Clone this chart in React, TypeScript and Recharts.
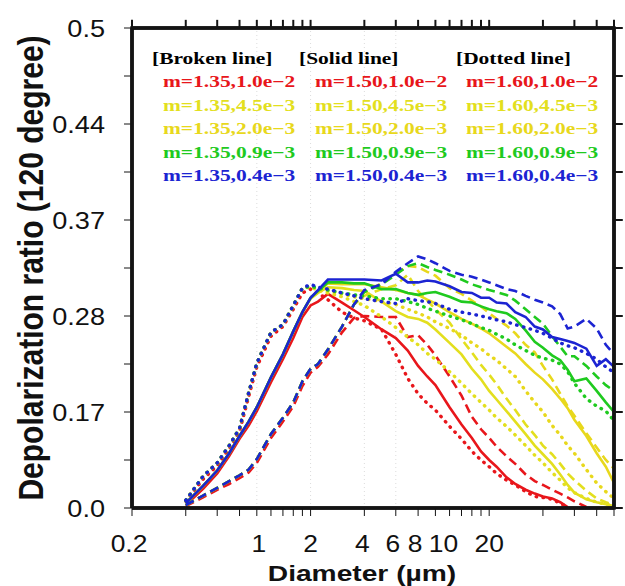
import { Line, LineChart, ReferenceLine, XAxis, YAxis } from 'recharts'

// diameters (µm) sampled along the log x axis
const DIAMETERS = [
  0.4, 0.5, 0.6, 0.7, 0.8, 0.9, 1, 1.2, 1.4, 1.6, 1.8, 2, 2.2, 2.5, 3, 3.5, 4, 5, 6, 7, 8, 9,
  10, 12, 14, 16, 18, 20, 22, 25, 28, 32, 36, 40, 45, 50, 55, 60, 70, 80, 90, 100,
]

// the rising part is shared (and hidden under the blue curves) for each line style
const SOLID_RISE = [0.005, 0.023, 0.039, 0.057, 0.075, 0.09, 0.105, 0.136, 0.16, 0.184, 0.204]
const DOTTED_RISE = [0.008, 0.033, 0.047, 0.065, 0.083, 0.12, 0.151, 0.183, 0.191, 0.211, 0.229]
const DASHED_RISE = [
  0.003, 0.013, 0.021, 0.028, 0.034, 0.04, 0.051, 0.077, 0.094, 0.11, 0.132, 0.145, 0.15, 0.165,
  0.189, 0.212,
]

// m=1.35 broken, m=1.50 solid, m=1.60 dotted
const RED_DASHED = [
  0.002, 0.011, 0.019, 0.025, 0.031, 0.037, 0.047, 0.073, 0.09, 0.106, 0.127, 0.141, 0.147, 0.16,
  0.183, 0.198, 0.2, 0.199, 0.199, 0.178, 0.18, 0.17, 0.159, 0.137, 0.117, 0.095, 0.082, 0.073,
  0.064, 0.054, 0.046, 0.035, 0.028, 0.024, 0.019, 0.015, 0.011, 0.007, 0.001, null, null, null,
]
const RED_SOLID = [
  0.003, 0.02, 0.036, 0.054, 0.072, 0.086, 0.101, 0.131, 0.155, 0.177, 0.199, 0.211, 0.215, 0.223,
  0.214, 0.206, 0.199, 0.186, 0.177, 0.164, 0.148, 0.137, 0.128, 0.105, 0.087, 0.073, 0.059, 0.05,
  0.043, 0.032, 0.025, 0.019, 0.015, 0.012, 0.01, 0.006, 0.001, null, null, null, null, null,
]
const RED_DOTTED = [
  0.007, 0.03, 0.044, 0.062, 0.08, 0.116, 0.147, 0.179, 0.189, 0.207, 0.224, 0.228, 0.224, 0.217,
  0.204, 0.198, 0.195, 0.186, 0.16, 0.135, 0.119, 0.109, 0.102, 0.085, 0.072, 0.059, 0.05, 0.043,
  0.036, 0.029, 0.024, 0.017, 0.012, 0.011, 0.009, 0.005, 0.001, null, null, null, null, null,
]

const Y45_DASHED = [
  ...DASHED_RISE, 0.221, 0.228, 0.232, 0.243, 0.226, 0.216, 0.207, 0.193, 0.176, 0.162, 0.149,
  0.139, 0.129, 0.114, 0.102, 0.087, 0.076, 0.065, 0.056, 0.046, 0.036, 0.029, 0.018, 0.01, 0.006,
  0.003,
]
const Y45_SOLID = [
  ...SOLID_RISE, 0.218, 0.224, 0.23, 0.229, 0.227, 0.226, 0.215, 0.205, 0.199, 0.197, 0.193, 0.186,
  0.172, 0.16, 0.145, 0.134, 0.122, 0.113, 0.101, 0.09, 0.077, 0.065, 0.056, 0.046, 0.035, 0.024,
  0.016, 0.009, 0.006, 0.004, 0.002,
]
const Y45_DOTTED = [
  ...DOTTED_RISE, 0.23, 0.227, 0.224, 0.22, 0.215, 0.211, 0.199, 0.188, 0.178, 0.17, 0.161, 0.155,
  0.142, 0.13, 0.119, 0.11, 0.102, 0.094, 0.085, 0.076, 0.065, 0.055, 0.047, 0.037, 0.029, 0.021,
  0.016, 0.01, 0.006, 0.004, 0.002,
]

const Y20_DASHED = [
  ...DASHED_RISE, 0.225, 0.234, 0.244, 0.252, 0.251, 0.246, 0.242, 0.229, 0.223, 0.216, 0.21,
  0.203, 0.197, 0.19, 0.182, 0.17, 0.162, 0.148, 0.134, 0.119, 0.106, 0.096, 0.078, 0.063, 0.05,
  0.041,
]
const Y20_SOLID = [
  ...SOLID_RISE, 0.219, 0.225, 0.234, 0.233, 0.233, 0.233, 0.23, 0.227, 0.224, 0.222, 0.217, 0.213,
  0.204, 0.197, 0.192, 0.187, 0.182, 0.176, 0.168, 0.161, 0.15, 0.141, 0.134, 0.124, 0.114, 0.104,
  0.092, 0.075, 0.057, 0.043, 0.026,
]
const Y20_DOTTED = [
  ...DOTTED_RISE, 0.231, 0.228, 0.226, 0.223, 0.22, 0.218, 0.215, 0.212, 0.207, 0.203, 0.199,
  0.194, 0.187, 0.18, 0.172, 0.166, 0.159, 0.154, 0.145, 0.137, 0.122, 0.11, 0.1, 0.086, 0.076,
  0.065, 0.057, 0.04, 0.026, 0.017, 0.01,
]

const GREEN_DASHED = [
  ...DASHED_RISE, 0.225, 0.233, 0.243, 0.252, 0.255, 0.251, 0.248, 0.243, 0.238, 0.233, 0.23,
  0.227, 0.225, 0.222, 0.216, 0.207, 0.199, 0.192, 0.179, 0.168, 0.158, 0.158, 0.148, 0.137, 0.128,
  0.122,
]
const GREEN_SOLID = [
  ...SOLID_RISE, 0.219, 0.226, 0.235, 0.235, 0.234, 0.234, 0.228, 0.228, 0.224, 0.222, 0.224,
  0.225, 0.22, 0.215, 0.214, 0.21, 0.207, 0.205, 0.203, 0.197, 0.185, 0.173, 0.167, 0.159, 0.154,
  0.144, 0.132, 0.135, 0.122, 0.11, 0.1,
]
const GREEN_DOTTED = [
  ...DOTTED_RISE, 0.231, 0.229, 0.227, 0.224, 0.222, 0.221, 0.218, 0.218, 0.215, 0.212, 0.208,
  0.205, 0.2, 0.196, 0.192, 0.188, 0.185, 0.181, 0.176, 0.17, 0.164, 0.159, 0.156, 0.154, 0.15,
  0.142, 0.13, 0.114, 0.106, 0.101, 0.091,
]

const BLUE_DASHED = [
  ...DASHED_RISE, 0.227, 0.233, 0.246, 0.255, 0.262, 0.259, 0.255, 0.247, 0.243, 0.241, 0.238,
  0.235, 0.232, 0.228, 0.226, 0.221, 0.217, 0.214, 0.21, 0.202, 0.187, 0.189, 0.197, 0.187, 0.17,
  0.16,
]
const BLUE_SOLID = [
  ...SOLID_RISE, 0.219, 0.227, 0.238, 0.238, 0.238, 0.238, 0.237, 0.244, 0.235, 0.235, 0.237,
  0.236, 0.231, 0.225, 0.224, 0.219, 0.219, 0.214, 0.213, 0.204, 0.199, 0.189, 0.186, 0.178, 0.176,
  0.174, 0.172, 0.166, 0.148, 0.155, 0.147,
]
const BLUE_DOTTED = [
  ...DOTTED_RISE, 0.233, 0.23, 0.228, 0.224, 0.221, 0.218, 0.215, 0.213, 0.218, 0.216, 0.215,
  0.213, 0.207, 0.204, 0.202, 0.2, 0.198, 0.196, 0.194, 0.191, 0.188, 0.185, 0.182, 0.177, 0.172,
  0.169, 0.167, 0.161, 0.155, 0.147, 0.141,
]

// axes
const X_MIN = 0.2
const X_MAX = 100
const Y_MAX = 0.5
const X_TICKS = [0.2, 0.4, 0.6, 0.8, 1, 1.2, 1.4, 1.6, 1.8, 2, 4, 6, 8, 10, 12, 14, 16, 18, 20, 40, 60, 80, 100]
const X_LABEL_VALUES = [0.2, 1, 2, 4, 6, 8, 10, 20]
const X_LABELS = ['0.2', '1', '2', '4', '6', '8', '10', '20']
const X_LABEL_NUDGE = [-3, 2, 0, -2, -3, -3, 8, 0]

const Y_TICKS = [0, 0.05, 0.1, 0.15, 0.2, 0.25, 0.3, 0.35, 0.4, 0.45, 0.5]
const Y_LABEL_VALUES = [0, 0.1, 0.2, 0.3, 0.4, 0.5]
const Y_LABELS = ['0.0', '0.17', '0.28', '0.37', '0.44', '0.5']

// outward tick marks on the top and right frame, in data units
const TOP_TICK_END = 0.5085
const RIGHT_TICK_END = 112

// plot frame corners
const FRAME_X = [X_MIN, X_MIN, X_MAX, X_MAX, X_MIN]
const FRAME_Y = [0, Y_MAX, Y_MAX, 0, 0]

const INK = '#141414'
const RED = '#e8161b'
const YELLOW_A = '#e3df1e'
const YELLOW_B = '#e8d81c'
const GREEN = '#1fca1f'
const BLUE = '#1c24d2'

const LEGEND_COLORS = [RED, YELLOW_A, YELLOW_B, GREEN, BLUE]
const LEGEND_HEADERS = ['[Broken line]', '[Solid line]', '[Dotted line]']
const LEGEND_M = ['1.35', '1.50', '1.60']
const LEGEND_K = ['1.0e\u22122', '4.5e\u22123', '2.0e\u22123', '0.9e\u22123', '0.4e\u22123']

const rows = DIAMETERS.map((d, i) => ({
  d,
  redDashed: RED_DASHED[i],
  redSolid: RED_SOLID[i],
  redDotted: RED_DOTTED[i],
  y45Dashed: Y45_DASHED[i],
  y45Solid: Y45_SOLID[i],
  y45Dotted: Y45_DOTTED[i],
  y20Dashed: Y20_DASHED[i],
  y20Solid: Y20_SOLID[i],
  y20Dotted: Y20_DOTTED[i],
  greenDashed: GREEN_DASHED[i],
  greenSolid: GREEN_SOLID[i],
  greenDotted: GREEN_DOTTED[i],
  blueDashed: BLUE_DASHED[i],
  blueSolid: BLUE_SOLID[i],
  blueDotted: BLUE_DOTTED[i],
}))

const frameRows = FRAME_X.map((d, i) => ({ d, f: FRAME_Y[i] }))

type Style = 'dashed' | 'solid' | 'dotted'
const SERIES: { key: string; color: string; style: Style }[] = [
  { key: 'redDashed', color: RED, style: 'dashed' },
  { key: 'redSolid', color: RED, style: 'solid' },
  { key: 'redDotted', color: RED, style: 'dotted' },
  { key: 'y45Dashed', color: YELLOW_A, style: 'dashed' },
  { key: 'y45Solid', color: YELLOW_A, style: 'solid' },
  { key: 'y45Dotted', color: YELLOW_A, style: 'dotted' },
  { key: 'y20Dashed', color: YELLOW_B, style: 'dashed' },
  { key: 'y20Solid', color: YELLOW_B, style: 'solid' },
  { key: 'y20Dotted', color: YELLOW_B, style: 'dotted' },
  { key: 'greenDashed', color: GREEN, style: 'dashed' },
  { key: 'greenSolid', color: GREEN, style: 'solid' },
  { key: 'greenDotted', color: GREEN, style: 'dotted' },
  { key: 'blueDashed', color: BLUE, style: 'dashed' },
  { key: 'blueSolid', color: BLUE, style: 'solid' },
  { key: 'blueDotted', color: BLUE, style: 'dotted' },
]

const SANS = '"Liberation Sans", Arial, sans-serif'
const SERIF = '"Liberation Serif", "Times New Roman", serif'

function BottomTick({ x, y, payload }: any) {
  const i = X_LABEL_VALUES.indexOf(payload.value)
  if (i < 0) return <g />
  return (
    <text
      transform={`translate(${x + X_LABEL_NUDGE[i]},${Number(y) + 36}) scale(1.1,1)`}
      textAnchor="middle"
      fontFamily={SANS}
      fontSize={24}
      fill="#111"
    >
      {X_LABELS[i]}
    </text>
  )
}

function LeftTick({ x, y, payload }: any) {
  const i = Y_LABEL_VALUES.indexOf(payload.value)
  if (i < 0) return <g />
  return (
    <text
      transform={`translate(${x - 19},${Number(y) + 8.5}) scale(1.13,1)`}
      textAnchor="end"
      fontFamily={SANS}
      fontSize={24}
      fill="#111"
    >
      {Y_LABELS[i]}
    </text>
  )
}

const legendText = {
  position: 'absolute' as const,
  whiteSpace: 'nowrap' as const,
  fontFamily: SERIF,
  fontWeight: 'bold' as const,
  fontSize: 16,
  lineHeight: '16px',
  transform: 'scaleX(1.34)',
  transformOrigin: 'left center',
}

export default function App() {
  return (
    <div style={{ position: 'absolute', left: 0, top: 0, width: 625, height: 586, background: '#fff' }}>
      <LineChart width={625} height={586} data={rows} margin={{ top: 28, right: 11, bottom: 0, left: 0 }}>
        <XAxis
          dataKey="d"
          type="number"
          scale="log"
          domain={[X_MIN, X_MAX]}
          ticks={X_TICKS}
          interval={0}
          height={78}
          stroke={INK}
          tickSize={8}
          tickMargin={0}
          tick={<BottomTick />}
        />
        <YAxis
          type="number"
          domain={[0, Y_MAX]}
          ticks={Y_TICKS}
          interval={0}
          width={132}
          stroke={INK}
          tickSize={8}
          tickMargin={0}
          tick={<LeftTick />}
        />
        {[1, 2, 4, 6].map((v) => (
          <ReferenceLine key={v} x={v} stroke="#dcdcdc" strokeDasharray="1 3" strokeWidth={1} />
        ))}
        {SERIES.map((s) => (
          <Line
            key={s.key}
            dataKey={s.key}
            type="linear"
            stroke={s.color}
            strokeWidth={s.style === 'dotted' ? 3.4 : 2.6}
            strokeDasharray={s.style === 'dashed' ? '9 5' : s.style === 'dotted' ? '0.5 6.5' : undefined}
            strokeLinecap={s.style === 'dotted' ? 'round' : 'butt'}
            dot={false}
            activeDot={false}
            connectNulls={false}
            isAnimationActive={false}
          />
        ))}
        <Line
          data={frameRows}
          dataKey="f"
          type="linear"
          stroke={INK}
          strokeWidth={3.5}
          dot={false}
          activeDot={false}
          isAnimationActive={false}
        />
        {X_TICKS.map((v) => (
          <ReferenceLine
            key={`t${v}`}
            segment={[
              { x: v, y: Y_MAX },
              { x: v, y: TOP_TICK_END },
            ]}
            stroke={INK}
            strokeWidth={2}
            ifOverflow="visible"
          />
        ))}
        {Y_TICKS.map((v) => (
          <ReferenceLine
            key={`r${v}`}
            segment={[
              { x: X_MAX, y: v },
              { x: RIGHT_TICK_END, y: v },
            ]}
            stroke={INK}
            strokeWidth={2}
            ifOverflow="visible"
          />
        ))}
        <ReferenceLine y={0} stroke={INK} strokeWidth={3.5} ifOverflow="extendDomain" />
        <ReferenceLine y={Y_MAX} stroke={INK} strokeWidth={3.5} ifOverflow="extendDomain" />
        <ReferenceLine x={X_MIN} stroke={INK} strokeWidth={3.5} ifOverflow="extendDomain" />
        <ReferenceLine x={X_MAX} stroke={INK} strokeWidth={3.5} ifOverflow="extendDomain" />
      </LineChart>
      <div
        style={{
          position: 'absolute',
          left: -209,
          top: 251,
          width: 480,
          height: 34,
          lineHeight: '34px',
          textAlign: 'center',
          whiteSpace: 'nowrap',
          fontFamily: SANS,
          fontWeight: 'bold',
          fontSize: 30,
          color: '#111',
          transform: 'rotate(-90deg) scale(1, 1.15)',
        }}
      >
        Depolarization ratio (120 degree)
      </div>
      <div
        style={{
          position: 'absolute',
          left: 212,
          top: 563,
          width: 300,
          lineHeight: '22px',
          textAlign: 'center',
          whiteSpace: 'nowrap',
          fontFamily: SANS,
          fontWeight: 'bold',
          fontSize: 22,
          color: '#111',
          transform: 'scaleX(1.28)',
        }}
      >
        Diameter (µm)
      </div>
      {LEGEND_HEADERS.map((h, c) => (
        <div key={h} style={{ ...legendText, left: [152, 299, 456][c], top: 51, color: '#000' }}>
          {h}
        </div>
      ))}
      {LEGEND_M.map((m, c) =>
        LEGEND_K.map((k, r) => (
          <div
            key={m + k}
            style={{ ...legendText, left: [163, 315, 466][c], top: 74 + r * 23.5, color: LEGEND_COLORS[r] }}
          >
            {`m=${m},${k}`}
          </div>
        )),
      )}
    </div>
  )
}
